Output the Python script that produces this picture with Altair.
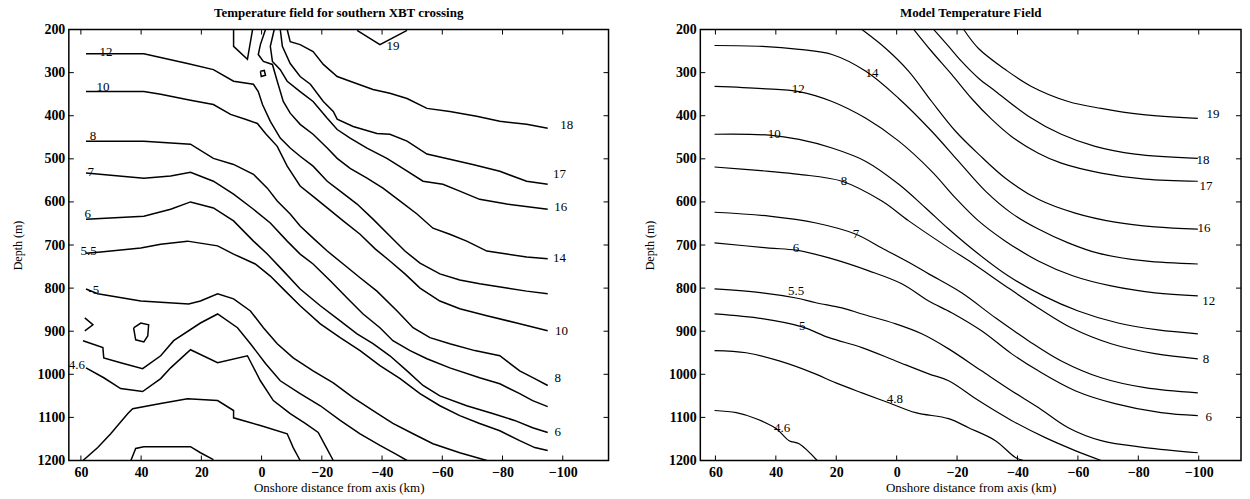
import altair as alt
import pandas as pd

# ---------------- Observed (XBT) panel: contour polylines (km, depth m) ----------------
OBS_19 = [(-31.7, 202), (-39.3, 235), (-48.3, 202)]
OBS_TOPLOOP = [(9.3, 200), (9.3, 239), (4.7, 269), (3.0, 200)]
OBS_TINYLOOP = [(0.4, 297), (-0.9, 295), (-1.3, 306), (0.1, 309), (0.4, 297)]
OBS_18 = [(-8.5, 200), (-9.5, 228), (-12.8, 235), (-17.1, 251), (-20.5, 281), (-25.1, 309), (-29.4, 320),
          (-37.0, 339), (-42.6, 348), (-48.3, 360), (-54.9, 383), (-62.5, 390), (-71.4, 401), (-79.1, 413),
          (-88.0, 420), (-95.0, 429)]
OBS_17 = [(-6.2, 200), (-6.9, 239), (-9.5, 279), (-12.8, 309), (-16.2, 327), (-20.5, 367), (-23.8, 390),
          (-25.1, 408), (-30.4, 425), (-38.3, 441), (-42.6, 443), (-48.3, 459), (-54.9, 489), (-62.5, 501),
          (-70.1, 513), (-79.1, 529), (-88.0, 552), (-95.0, 559)]
OBS_16 = [(-4.2, 200), (-2.9, 239), (-3.6, 274), (-6.2, 293), (-8.5, 320), (-12.8, 344), (-17.1, 367),
          (-21.8, 406), (-25.1, 432), (-29.4, 452), (-35.0, 475), (-41.6, 499), (-46.9, 522), (-53.6, 552),
          (-60.2, 559), (-65.8, 575), (-72.4, 594), (-81.4, 605), (-95.0, 617)]
OBS_14 = [(-1.3, 200), (0.4, 235), (1.1, 258), (-0.6, 274), (-3.6, 281), (-5.2, 320), (-7.2, 367),
          (-9.5, 394), (-12.8, 420), (-17.1, 443), (-21.8, 475), (-25.1, 499), (-29.4, 522), (-35.0, 545),
          (-40.3, 568), (-46.0, 598), (-51.6, 628), (-56.9, 661), (-62.5, 675), (-68.1, 691), (-74.8, 714),
          (-81.4, 721), (-88.0, 728), (-95.0, 732)]
OBS_12 = [(58.3, 256), (39.1, 256), (24.6, 279), (16.0, 293), (9.3, 320), (2.7, 327), (1.1, 344),
          (-0.3, 374), (-2.9, 413), (-6.2, 452), (-9.5, 475), (-12.8, 494), (-17.1, 517), (-21.8, 552),
          (-26.1, 575), (-31.7, 605), (-37.0, 640), (-42.6, 679), (-47.6, 714), (-52.6, 742), (-59.2, 767),
          (-65.8, 781), (-72.4, 790), (-81.4, 800), (-88.0, 807), (-95.0, 813)]
OBS_10 = [(58.3, 344), (39.1, 344), (33.5, 350), (23.6, 364), (16.0, 374), (10.3, 397), (5.4, 408),
          (1.4, 418), (-1.3, 441), (-5.2, 471), (-8.5, 517), (-12.8, 563), (-17.1, 587), (-21.8, 614),
          (-27.1, 644), (-32.7, 675), (-37.7, 709), (-42.6, 737), (-47.6, 767), (-52.6, 800), (-59.2, 830),
          (-65.8, 848), (-74.8, 864), (-84.7, 881), (-95.0, 899)]
OBS_8 = [(58.3, 459), (39.1, 459), (23.6, 466), (16.0, 499), (9.3, 513), (2.7, 536), (-1.9, 568),
         (-5.2, 598), (-9.5, 628), (-12.8, 656), (-17.1, 684), (-21.8, 714), (-27.1, 744), (-32.7, 776),
         (-38.3, 807), (-45.0, 853), (-50.3, 892), (-55.9, 915), (-62.5, 929), (-70.8, 945), (-79.1, 957),
         (-85.7, 992), (-90.7, 1010), (-95.0, 1026)]
OBS_7 = [(58.3, 533), (39.1, 545), (30.2, 540), (23.6, 531), (16.0, 552), (9.3, 582), (2.7, 617),
         (-2.9, 649), (-8.5, 691), (-12.8, 721), (-17.1, 744), (-22.8, 783), (-28.4, 823), (-33.7, 860),
         (-39.3, 892), (-43.6, 922), (-49.3, 945), (-54.9, 964), (-62.5, 985), (-72.4, 1008), (-79.1, 1022),
         (-85.7, 1045), (-90.0, 1061), (-95.0, 1075)]
OBS_6 = [(58.3, 640), (39.1, 633), (30.2, 617), (23.6, 600), (16.0, 614), (9.3, 644), (2.7, 691),
         (-1.9, 721), (-7.2, 760), (-12.8, 802), (-19.5, 841), (-26.1, 876), (-31.7, 906), (-37.0, 929),
         (-42.6, 957), (-48.3, 992), (-53.6, 1026), (-59.2, 1050), (-68.1, 1073), (-76.7, 1091),
         (-84.0, 1107), (-90.0, 1124), (-95.0, 1135)]
OBS_55 = [(58.3, 719), (53.4, 716), (40.1, 707), (33.5, 698), (24.6, 691), (14.6, 702), (9.3, 721),
          (2.1, 744), (-2.9, 772), (-7.9, 807), (-12.8, 841), (-19.5, 883), (-26.1, 915), (-32.7, 945),
          (-39.3, 980), (-46.0, 1010), (-52.6, 1045), (-59.2, 1073), (-65.8, 1096), (-72.4, 1114),
          (-79.1, 1131), (-85.7, 1154), (-90.7, 1170), (-95.0, 1177)]
OBS_5 = [(58.3, 802), (54.4, 813), (40.1, 830), (24.2, 837), (20.3, 830), (14.6, 813), (9.3, 825),
         (3.7, 853), (-0.6, 892), (-5.2, 929), (-10.5, 962), (-17.1, 992), (-23.8, 1020), (-30.4, 1054),
         (-37.0, 1084), (-43.6, 1114), (-50.3, 1138), (-56.9, 1161), (-65.8, 1182), (-74.8, 1200)]
OBS_48 = [(59.3, 922), (52.7, 938), (52.4, 962), (46.8, 973), (39.5, 987), (33.5, 957), (29.2, 922),
          (20.3, 881), (14.6, 860), (8.0, 892), (3.7, 929), (-1.3, 975), (-6.2, 1015), (-12.8, 1045),
          (-19.5, 1073), (-26.1, 1107), (-32.7, 1138), (-39.3, 1165), (-44.3, 1184), (-48.3, 1200)]
OBS_46 = [(58.3, 985), (52.4, 1008), (46.8, 1033), (39.5, 1040), (33.5, 1010), (30.2, 985), (23.6, 943),
          (14.6, 973), (4.7, 957), (0.4, 1015), (-3.9, 1061), (-9.5, 1091), (-14.5, 1114), (-18.8, 1135),
          (-21.1, 1165), (-23.8, 1200)]
OBS_44 = [(59.3, 1200), (54.4, 1170), (50.1, 1138), (44.4, 1091), (42.8, 1080), (33.5, 1068),
          (24.6, 1057), (14.6, 1061), (9.3, 1084), (9.3, 1101), (0.4, 1119), (-8.5, 1138), (-10.5, 1170),
          (-12.8, 1200)]
OBS_BOTLOOP = [(43.4, 1200), (41.8, 1172), (39.1, 1168), (23.6, 1168), (20.3, 1182), (16.0, 1198)]
OBS_HOOK = [(58.7, 869), (56.0, 885), (58.7, 899)]
OBS_SMALLLOOP = [(42.5, 892), (40.1, 881), (37.5, 885), (37.8, 911), (39.1, 925), (41.8, 920), (42.5, 892)]

OBS_LINES = {
    "19": OBS_19, "toploop": OBS_TOPLOOP, "tinyloop": OBS_TINYLOOP, "18": OBS_18, "17": OBS_17,
    "16": OBS_16, "14": OBS_14, "12": OBS_12, "10": OBS_10, "8": OBS_8, "7": OBS_7, "6": OBS_6,
    "5.5": OBS_55, "5": OBS_5, "4.8": OBS_48, "4.6": OBS_46, "4.4": OBS_44, "botloop": OBS_BOTLOOP,
    "hook": OBS_HOOK, "smallloop": OBS_SMALLLOOP,
}

OBS_LABEL_TEXT = ["12", "10", "8", "7", "6", "5.5", "-5", "4.6", "18", "17", "16", "14", "10", "8", "6", "19"]
OBS_LABEL_KM = [51.7, 52.7, 56.0, 56.7, 57.7, 57.4, 55.7, 61.3, -101.3, -98.9, -99.3, -98.9, -99.6, -98.3, -98.3, -43.6]
OBS_LABEL_DEPTH = [251, 334, 448, 531, 628, 714, 804, 978, 422, 536, 612, 730, 899, 1008, 1135, 239]

# ---------------- Model panel ----------------
MOD_19 = [(-22.2, 200), (-27.1, 244), (-36.0, 293), (-44.6, 332), (-56.8, 367), (-67.7, 383), (-80.9, 397), (-99.7, 406)]
MOD_18 = [(-12.3, 200), (-17.2, 239), (-21.5, 274), (-27.1, 313), (-32.7, 343), (-43.6, 401), (-54.5, 443),
          (-65.7, 471), (-78.9, 489), (-99.7, 499)]
MOD_17 = [(-5.7, 200), (-11.6, 251), (-18.2, 304), (-24.8, 360), (-31.4, 408), (-38.0, 448), (-46.9, 487),
          (-54.5, 510), (-67.7, 533), (-82.2, 547), (-99.7, 552)]
MOD_16 = [(11.5, 200), (3.6, 244), (-4.0, 297), (-11.6, 367), (-19.5, 436), (-27.1, 489), (-36.0, 545),
          (-46.9, 594), (-59.1, 626), (-72.3, 647), (-85.5, 658), (-99.7, 663)]
MOD_14 = [(60.3, 237), (44.5, 239), (32.3, 246), (21.4, 258), (10.2, 297), (-0.7, 360), (-11.6, 436),
          (-20.5, 506), (-29.4, 575), (-38.0, 626), (-46.9, 663), (-56.8, 695), (-66.7, 719), (-82.2, 737), (-99.7, 744)]
MOD_12 = [(60.3, 332), (44.5, 337), (32.3, 344), (21.4, 367), (10.2, 406), (-0.7, 459), (-11.6, 529),
          (-19.5, 591), (-27.1, 644), (-36.0, 691), (-46.9, 737), (-58.5, 772), (-71.0, 795), (-85.5, 811), (-99.7, 818)]
MOD_10 = [(60.3, 443), (42.2, 445), (32.3, 455), (21.4, 475), (10.2, 506), (-0.7, 559), (-9.6, 614),
          (-17.2, 663), (-27.1, 721), (-37.0, 772), (-48.6, 818), (-60.1, 853), (-73.3, 881), (-86.5, 897), (-99.7, 906)]
MOD_8 = [(60.3, 519), (42.2, 529), (32.3, 536), (18.1, 552), (4.9, 598), (-4.0, 644), (-16.2, 702),
         (-25.5, 744), (-36.0, 795), (-46.9, 846), (-57.8, 892), (-71.0, 929), (-85.5, 952), (-99.7, 964)]
MOD_7 = [(60.3, 624), (42.2, 633), (26.7, 649), (13.5, 675), (4.9, 707), (-5.0, 744), (-10.6, 767),
         (-21.5, 811), (-32.7, 869), (-43.6, 922), (-54.5, 969), (-67.7, 1008), (-82.2, 1031), (-99.7, 1043)]
MOD_6 = [(60.3, 695), (42.2, 707), (33.3, 712), (22.4, 730), (9.2, 760), (-1.7, 790), (-10.6, 830),
         (-18.2, 857), (-28.1, 899), (-38.0, 952), (-46.9, 992), (-59.1, 1038), (-72.3, 1068), (-87.5, 1089), (-99.7, 1096)]
MOD_55 = [(60.3, 802), (44.5, 811), (33.3, 823), (26.7, 834), (18.1, 846), (11.5, 860), (0.3, 883),
          (-8.3, 906), (-17.2, 941), (-28.1, 992), (-38.0, 1038), (-46.9, 1077), (-56.8, 1124), (-67.7, 1154),
          (-82.2, 1170), (-99.7, 1182)]
MOD_5 = [(60.3, 860), (44.5, 871), (31.3, 890), (22.4, 915), (11.5, 938), (0.3, 969), (-10.6, 999),
         (-17.2, 1015), (-27.1, 1061), (-38.0, 1107), (-49.2, 1147), (-59.1, 1177), (-67.7, 1200)]
MOD_48 = [(60.3, 945), (49.8, 950), (38.9, 969), (28.0, 996), (20.1, 1020), (11.5, 1043), (2.6, 1066),
          (-6.3, 1089), (-17.2, 1103), (-23.8, 1124), (-32.7, 1154), (-39.3, 1193), (-42.0, 1200)]
MOD_46 = [(60.3, 1084), (53.1, 1089), (46.5, 1103), (39.9, 1126), (35.6, 1154), (32.3, 1161), (26.3, 1200)]

MOD_LINES = {
    "19": MOD_19, "18": MOD_18, "17": MOD_17, "16": MOD_16, "14": MOD_14, "12": MOD_12, "10": MOD_10,
    "8": MOD_8, "7": MOD_7, "6": MOD_6, "5.5": MOD_55, "5": MOD_5, "4.8": MOD_48, "4.6": MOD_46,
}

MOD_LABEL_TEXT = ["14", "12", "10", "8", "7", "6", "5.5", "5", "4.8", "4.6", "19", "18", "17", "16", "12", "8", "6"]
MOD_LABEL_KM = [8.2, 32.6, 40.5, 17.4, 13.5, 33.3, 33.3, 31.3, 0.6, 37.9, -104.7, -101.4, -102.4, -101.7, -103.3, -102.4, -103.3]
MOD_LABEL_DEPTH = [302, 337, 443, 552, 675, 707, 807, 888, 1057, 1124, 397, 503, 563, 661, 830, 964, 1098]

X_TICKS = [60, 40, 20, 0, -20, -40, -60, -80, -100]
Y_TICKS = [200, 300, 400, 500, 600, 700, 800, 900, 1000, 1100, 1200]

FONT = "Liberation Serif"
W1, W2, H = 541, 542, 432

XAXIS = alt.Axis(values=X_TICKS, format="d", ticks=False, domain=False, grid=False, labelFont=FONT,
                 labelFontSize=14, labelFontWeight="bold", labelColor="black", labelPadding=5,
                 labelOverlap=False, labelFlush=False, title="Onshore distance from axis (km)",
                 titleFont=FONT, titleFontSize=13, titleFontWeight="normal", titleColor="black",
                 titlePadding=2)
YAXIS = alt.Axis(values=Y_TICKS, format="d", ticks=False, domain=False, grid=False, labelFont=FONT,
                 labelFontSize=14, labelFontWeight="bold", labelColor="black", labelPadding=4,
                 labelOverlap=False, title="Depth (m)", titleFont=FONT, titleFontSize=12,
                 titleFontWeight="normal", titleColor="black", titlePadding=12)


def lines_df(lines):
    rows = []
    for name, pts in lines.items():
        for i, (k, d) in enumerate(pts):
            rows.append({"line": name, "i": i, "km": k, "depth": d})
    return pd.DataFrame(rows)


def panel(lines, ltext, lkm, ldepth, title, xdom, w, interp, sw):
    xs = alt.Scale(domain=xdom, reverse=True, nice=False, zero=False)
    ys = alt.Scale(domain=[200, 1200], reverse=True, nice=False, zero=False)

    def X(f):
        return alt.X(f, type="quantitative", scale=xs, axis=XAXIS)

    def Y(f):
        return alt.Y(f, type="quantitative", scale=ys, axis=YAXIS)

    base_lines = alt.Chart(lines_df(lines)).mark_line(
        color="black", strokeWidth=sw, clip=True, interpolate=interp
    ).encode(x=X("km"), y=Y("depth"), detail="line:N", order="i:Q")
    lab = pd.DataFrame({"t": ltext, "km": lkm, "depth": ldepth})
    texts = alt.Chart(lab).mark_text(
        font=FONT, fontSize=13, align="center", baseline="middle"
    ).encode(x=X("km"), y=Y("depth"), text="t:N", color=alt.value("black"))
    xt = pd.DataFrame({"km": X_TICKS})
    yt = pd.DataFrame({"depth": Y_TICKS})
    top = alt.Chart(xt).mark_rule(color="black", strokeWidth=1).encode(
        x=X("km"), y=alt.value(0), y2=alt.value(5))
    bot = alt.Chart(xt).mark_rule(color="black", strokeWidth=1).encode(
        x=X("km"), y=alt.value(H - 5), y2=alt.value(H))
    left = alt.Chart(yt).mark_rule(color="black", strokeWidth=1).encode(
        y=Y("depth"), x=alt.value(0), x2=alt.value(5))
    right = alt.Chart(yt).mark_rule(color="black", strokeWidth=1).encode(
        y=Y("depth"), x=alt.value(w - 5), x2=alt.value(w))
    return alt.layer(base_lines, texts, top, bot, left, right).properties(
        width=w, height=H,
        title=alt.TitleParams(title, font=FONT, fontSize=13, fontWeight="bold", color="black",
                              anchor="middle", offset=3),
    )


p1 = panel(OBS_LINES, OBS_LABEL_TEXT, OBS_LABEL_KM, OBS_LABEL_DEPTH,
           "Temperature field for southern XBT crossing", [-115.2, 64.0], W1, "linear", 1.5)
p2 = panel(MOD_LINES, MOD_LABEL_TEXT, MOD_LABEL_KM, MOD_LABEL_DEPTH,
           "Model Temperature Field", [-114.0, 65.0], W2, "catmull-rom", 1.2)

chart = alt.hconcat(p1, p2, spacing=92, bounds="flush").properties(
    padding={"left": 11, "top": 5, "right": 7, "bottom": 5},
    background="white",
).configure_view(stroke="black", strokeWidth=1.5)

chart.save("out.html", embed_options={"renderer": "svg", "actions": False})
